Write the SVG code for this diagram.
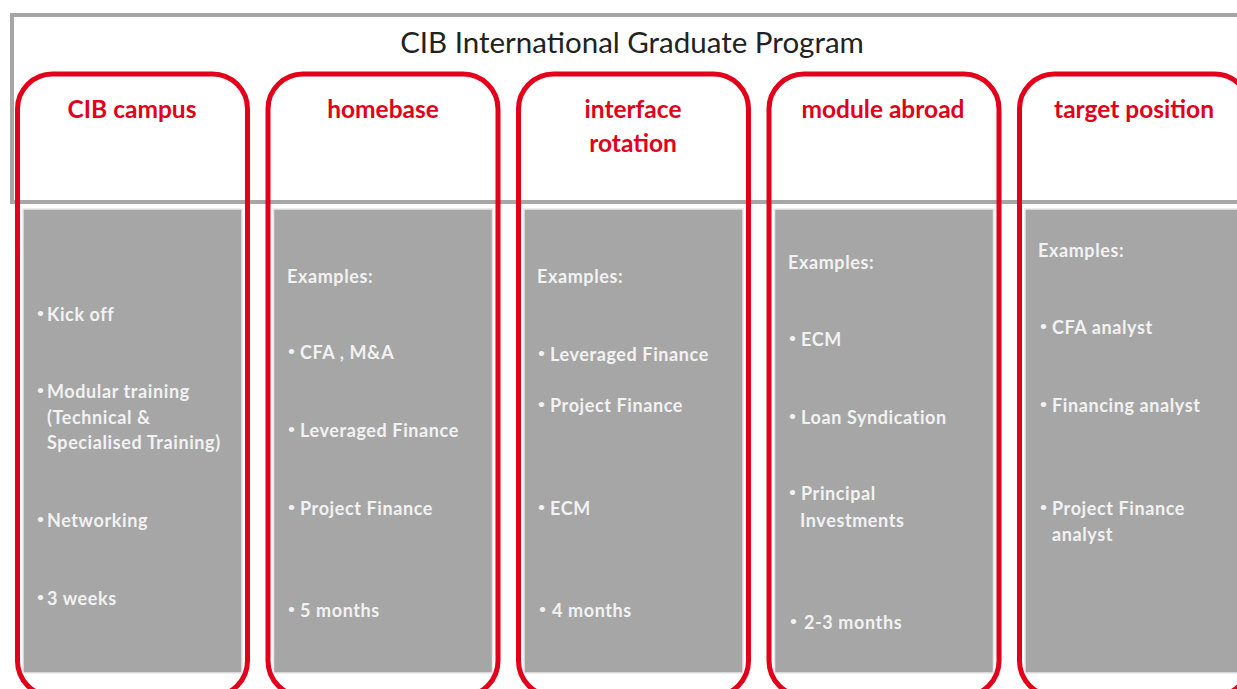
<svg xmlns="http://www.w3.org/2000/svg" width="1237" height="689" viewBox="0 0 1237 689">
<style>
.frame{fill:none;stroke:#a6a6a6;stroke-width:4}
.panel{fill:#a6a6a6;stroke:#e8e8e8;stroke-width:1.5}
.box{fill:none;stroke:#e2001a;stroke-width:5}
.head{font-family:Lato,"Open Sans",sans-serif;font-weight:bold;font-size:24.5px;fill:#e2001a;text-anchor:middle}
.main{font-family:Lato,"Open Sans",sans-serif;font-size:29.5px;fill:#222;text-anchor:middle}
.t{font-family:Lato,"Open Sans",sans-serif;font-weight:bold;font-size:18px;fill:#f2f2f2;letter-spacing:0.6px}
.b{font-size:12px}
</style>
<rect width="1237" height="689" fill="#fff"/>
<g id="program">
<rect class="frame" x="12" y="15" width="1260" height="187"/>
<text class="main" x="632" y="53">CIB International Graduate Program</text>
</g>
<g id="cib-campus">
<rect class="panel" x="23" y="209" width="219" height="464"/>
<rect class="box" x="17.5" y="74" width="230" height="622" rx="35"/>
<text class="head" x="132" y="118">CIB campus</text>
<text class="t" x="37" y="321"><tspan class="b" dy="-4">•</tspan><tspan x="47" dy="4">Kick off</tspan></text>
<text class="t" x="37" y="398"><tspan class="b" dy="-4">•</tspan><tspan x="47" dy="4">Modular training</tspan></text>
<text class="t" x="47" y="424">(Technical &amp;</text>
<text class="t" x="47" y="449">Specialised Training)</text>
<text class="t" x="37" y="527"><tspan class="b" dy="-4">•</tspan><tspan x="47" dy="4">Networking</tspan></text>
<text class="t" x="37" y="605"><tspan class="b" dy="-4">•</tspan><tspan x="47" dy="4">3 weeks</tspan></text>
</g>
<g id="homebase">
<rect class="panel" x="273.5" y="209" width="219" height="464"/>
<rect class="box" x="268" y="74" width="230" height="622" rx="35"/>
<text class="head" x="383" y="118">homebase</text>
<text class="t" x="287" y="283">Examples:</text>
<text class="t" x="288" y="359"><tspan class="b" dy="-4">•</tspan><tspan x="300" dy="4">CFA , M&amp;A</tspan></text>
<text class="t" x="288" y="437"><tspan class="b" dy="-4">•</tspan><tspan x="300" dy="4">Leveraged Finance</tspan></text>
<text class="t" x="288" y="515"><tspan class="b" dy="-4">•</tspan><tspan x="300" dy="4">Project Finance</tspan></text>
<text class="t" x="288" y="617"><tspan class="b" dy="-4">•</tspan><tspan x="300" dy="4">5 months</tspan></text>
</g>
<g id="interface-rotation">
<rect class="panel" x="524" y="209" width="219" height="464"/>
<rect class="box" x="518.5" y="74" width="230" height="622" rx="35"/>
<text class="head" x="633" y="118">interface</text>
<text class="head" x="633" y="152">rotation</text>
<text class="t" x="537" y="283">Examples:</text>
<text class="t" x="538" y="361"><tspan class="b" dy="-4">•</tspan><tspan x="550" dy="4">Leveraged Finance</tspan></text>
<text class="t" x="538" y="412"><tspan class="b" dy="-4">•</tspan><tspan x="550" dy="4">Project Finance</tspan></text>
<text class="t" x="538" y="515"><tspan class="b" dy="-4">•</tspan><tspan x="550" dy="4">ECM</tspan></text>
<text class="t" x="539" y="617"><tspan class="b" dy="-4">•</tspan><tspan x="552" dy="4">4 months</tspan></text>
</g>
<g id="module-abroad">
<rect class="panel" x="774.5" y="209" width="219" height="464"/>
<rect class="box" x="769" y="74" width="230" height="622" rx="35"/>
<text class="head" x="883" y="118">module abroad</text>
<text class="t" x="788" y="269">Examples:</text>
<text class="t" x="789" y="346"><tspan class="b" dy="-4">•</tspan><tspan x="801" dy="4">ECM</tspan></text>
<text class="t" x="789" y="424"><tspan class="b" dy="-4">•</tspan><tspan x="801" dy="4">Loan Syndication</tspan></text>
<text class="t" x="789" y="500"><tspan class="b" dy="-4">•</tspan><tspan x="801" dy="4">Principal</tspan></text>
<text class="t" x="800" y="527">Investments</text>
<text class="t" x="790" y="629"><tspan class="b" dy="-4">•</tspan><tspan x="804" dy="4">2-3 months</tspan></text>
</g>
<g id="target-position">
<rect class="panel" x="1025" y="209" width="219" height="464"/>
<rect class="box" x="1019.5" y="74" width="230" height="622" rx="35"/>
<text class="head" x="1134" y="118">target position</text>
<text class="t" x="1038" y="257">Examples:</text>
<text class="t" x="1040" y="334"><tspan class="b" dy="-4">•</tspan><tspan x="1052" dy="4">CFA analyst</tspan></text>
<text class="t" x="1040" y="412"><tspan class="b" dy="-4">•</tspan><tspan x="1052" dy="4">Financing analyst</tspan></text>
<text class="t" x="1040" y="515"><tspan class="b" dy="-4">•</tspan><tspan x="1052" dy="4">Project Finance</tspan></text>
<text class="t" x="1052" y="541">analyst</text>
</g>
<g id="connectors"/>
</svg>
